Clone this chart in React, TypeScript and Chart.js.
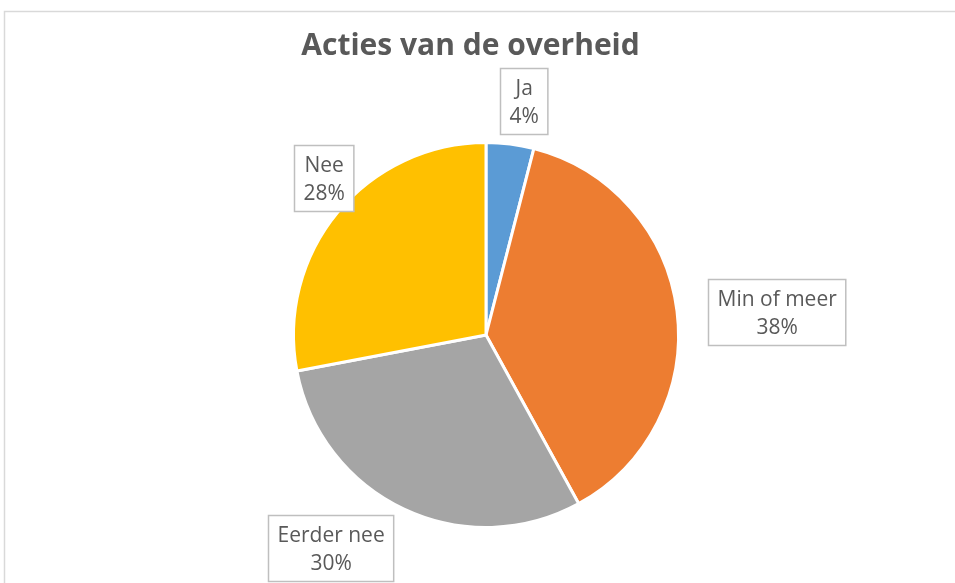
import React, { useEffect, useRef } from "react";
import { Chart, registerables } from "chart.js";

Chart.register(...registerables);

const chartTitle = "Acties van de overheid";
const categories = ["Ja", "Min of meer", "Eerder nee", "Nee"];
const percentages = [4, 38, 30, 28];
const sliceColors = ["#5B9BD5", "#ED7D31", "#A5A5A5", "#FFC000"];

const frameAndTitle = {
  id: "frameAndTitle",
  beforeDraw(chart: any, _args: any, opts: any) {
    const ctx = chart.ctx;
    ctx.save();
    ctx.fillStyle = "#ffffff";
    ctx.fillRect(0, 0, chart.width, chart.height);
    ctx.strokeStyle = "#d9d9d9";
    ctx.lineWidth = 1.5;
    ctx.strokeRect(4.5, 11.5, chart.width + 20, chart.height + 20);
    ctx.restore();
  },
  afterDraw(chart: any, _args: any, opts: any) {
    const ctx = chart.ctx;
    ctx.save();
    ctx.font = `bold ${opts.size}px "Open Sans"`;
    ctx.fillStyle = opts.color;
    ctx.textAlign = "center";
    ctx.textBaseline = "alphabetic";
    ctx.fillText(opts.text, chart.width / 2 + opts.shiftX, opts.baseline);
    ctx.restore();
  },
};

const boxLabels = {
  id: "boxLabels",
  afterDatasetsDraw(chart: any, _args: any, opts: any) {
    const ctx = chart.ctx;
    const meta = chart.getDatasetMeta(0);
    const ds = chart.data.datasets[0];
    ctx.save();
    ctx.font = `${opts.fontSize}px "Open Sans"`;
    const g = (v: number) => Math.max(-1, Math.min(1, v / 0.3));
    meta.data.forEach((arc: any, i: number) => {
      const { x, y, startAngle, endAngle, outerRadius } = arc.getProps(
        ["x", "y", "startAngle", "endAngle", "outerRadius"],
        true
      );
      const a = (startAngle + endAngle) / 2;
      const lines = [String(chart.data.labels[i]), ds.data[i] + "%"];
      const w = Math.max(...lines.map((l) => ctx.measureText(l).width)) + 2 * opts.padX;
      const h = lines.length * opts.lineHeight + 2 * opts.padY;
      const d = outerRadius + opts.gap;
      const ux = Math.cos(a);
      const uy = Math.sin(a);
      const n = (opts.nudges && opts.nudges[i]) || [0, 0];
      const bx = x + d * ux + (w / 2) * g(ux) + n[0];
      const by = y + d * uy + (h / 2) * g(uy) + n[1];
      const left = Math.round(bx - w / 2) + 0.5;
      const top = Math.round(by - h / 2) + 0.5;
      ctx.fillStyle = "#ffffff";
      ctx.fillRect(left, top, w, h);
      ctx.strokeStyle = "#bfbfbf";
      ctx.lineWidth = 1.5;
      ctx.strokeRect(left, top, w, h);
      ctx.fillStyle = opts.color;
      ctx.textAlign = "center";
      ctx.textBaseline = "alphabetic";
      const cyBox = top + h / 2;
      ctx.fillText(lines[0], left + w / 2, cyBox - 6.5);
      ctx.fillText(lines[1], left + w / 2, cyBox + 21.5);
    });
    ctx.restore();
  },
};

export default function App() {
  const ref = useRef<HTMLCanvasElement | null>(null);
  useEffect(() => {
    if (!ref.current) return;
    const chart = new Chart(ref.current, {
      type: "pie",
      data: {
        labels: categories,
        datasets: [
          {
            data: percentages,
            backgroundColor: sliceColors,
            borderColor: "#ffffff",
            borderWidth: 3,
          },
        ],
      },
      options: {
        responsive: false,
        animation: false,
        layout: { padding: { top: 141, bottom: 54, left: 200, right: 183 } },
        plugins: {
          legend: { display: false },
          title: { display: false },
          tooltip: { enabled: false },
          frameAndTitle: {
            text: chartTitle,
            size: 30,
            color: "#595959",
            shiftX: -7,
            baseline: 55,
          },
          boxLabels: {
            fontSize: 21,
            color: "#595959",
            padX: 9,
            padY: 5,
            lineHeight: 28,
            gap: 10,
            nudges: [
              [2, 0],
              [21, 16],
              [-7, -3],
              [23, 5],
            ],
          },
        } as any,
      },
      plugins: [frameAndTitle, boxLabels],
    });
    return () => chart.destroy();
  }, []);
  return (
    <div style={{ position: "absolute", left: 0, top: 0, width: 955, height: 583, background: "#fff" }}>
      <canvas ref={ref} width={955} height={583} style={{ display: "block" }} />
    </div>
  );
}
